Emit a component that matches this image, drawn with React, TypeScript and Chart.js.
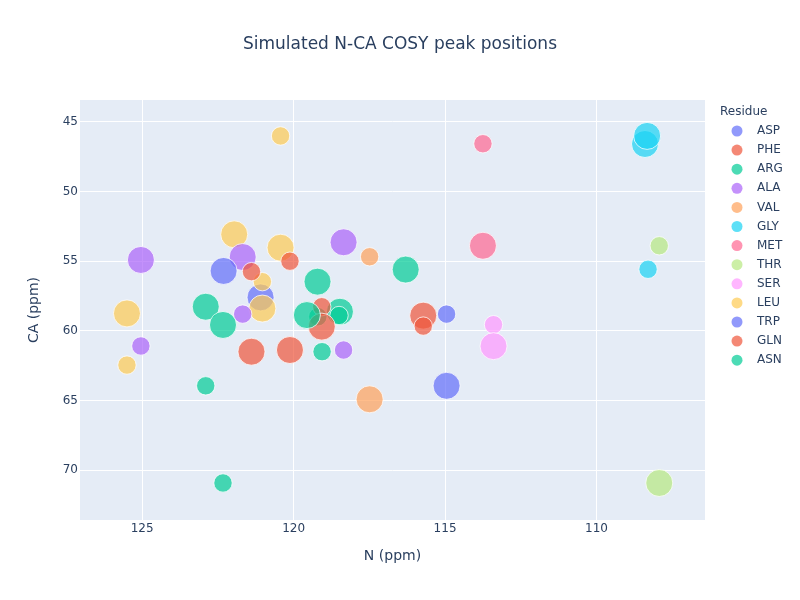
import React, { useEffect, useRef } from "react";
import { Chart, registerables } from "chart.js";

Chart.register(...registerables);

// Residue types, in legend order, with their marker colours
const RESIDUES = ["ASP", "PHE", "ARG", "ALA", "VAL", "GLY", "MET", "THR", "SER", "LEU", "TRP", "GLN", "ASN"];
const RESIDUE_COLORS = [
  "#636efa", "#EF553B", "#00cc96", "#ab63fa", "#FFA15A", "#19d3f3", "#FF6692",
  "#B6E880", "#FF97FF", "#FECB52", "#636efa", "#EF553B", "#00cc96",
];

// Simulated peaks: residue, N shift (ppm), CA shift (ppm), relative intensity
const PEAK_RESIDUE = [
  "ASP", "ASP",
  "PHE", "PHE", "PHE", "PHE",
  "ARG", "ARG", "ARG", "ARG", "ARG", "ARG",
  "ALA", "ALA", "ALA", "ALA", "ALA", "ALA",
  "VAL", "VAL",
  "GLY", "GLY", "GLY",
  "MET", "MET",
  "THR", "THR",
  "SER", "SER",
  "LEU", "LEU", "LEU", "LEU", "LEU", "LEU", "LEU",
  "TRP", "TRP",
  "GLN", "GLN", "GLN", "GLN",
  "ASN", "ASN", "ASN", "ASN", "ASN",
];
const PEAK_N = [
  122.31, 114.95,
  120.12, 121.39, 121.39, 120.12,
  119.21, 116.3, 122.9, 122.33, 122.9, 119.56,
  125.04, 121.68, 118.35, 121.68, 125.04, 118.35,
  117.49, 117.49,
  108.4, 108.33, 108.3,
  113.75, 113.75,
  107.93, 107.93,
  113.4, 113.4,
  120.43, 121.96, 120.43, 121.03, 121.03, 125.5, 125.5,
  121.09, 114.95,
  119.07, 119.07, 115.72, 115.72,
  118.47, 119.06, 122.33, 119.2, 118.5,
];
const PEAK_CA = [
  55.7, 63.95,
  55.0, 55.75, 61.5, 61.38,
  56.47, 55.6, 58.27, 59.58, 63.95, 58.87,
  54.91, 54.7, 53.64, 58.8, 61.09, 61.38,
  54.68, 64.92,
  46.58, 46.0, 55.58,
  46.56, 53.89,
  53.89, 70.93,
  59.56, 61.1,
  46.0, 53.07, 54.03, 56.47, 58.4, 58.75, 62.46,
  57.6, 58.8,
  58.27, 59.7, 58.91, 59.66,
  58.63, 61.5, 70.93, 58.99, 58.9,
];
const PEAK_INTENSITY = [
  1.0, 1.0,
  0.68, 0.68, 1.0, 1.0,
  1.0, 1.0, 1.0, 1.0, 0.68, 1.0,
  1.0, 1.0, 1.0, 0.68, 0.68, 0.68,
  0.68, 1.0,
  1.0, 1.0, 0.68,
  0.68, 1.0,
  0.68, 1.0,
  0.68, 1.0,
  0.68, 1.0, 1.0, 0.68, 1.0, 1.0, 0.68,
  1.0, 0.68,
  0.68, 1.0, 1.0, 0.68,
  1.0, 0.68, 0.68, 0.68, 0.68,
];

const N_TICKS = [125, 120, 115, 110];
const CA_TICKS = [45, 50, 55, 60, 65, 70];
const N_RANGE = [106.42, 127.05];
const CA_RANGE = [43.42, 73.59];

const TITLE = "Simulated N-CA COSY peak positions";
const X_TITLE = "N (ppm)";
const Y_TITLE = "CA (ppm)";
const LEGEND_TITLE = "Residue";

const FONT = '"DejaVu Sans", verdana, arial, sans-serif';
const TEXT_COLOR = "#2a3f5f";
const MAX_RADIUS = 13.5;

function withAlpha(hex: string, a: number) {
  const h = hex.replace("#", "");
  const r = parseInt(h.slice(0, 2), 16);
  const g = parseInt(h.slice(2, 4), 16);
  const b = parseInt(h.slice(4, 6), 16);
  return `rgba(${r},${g},${b},${a})`;
}

// Draws the plot background, the figure title, the axis titles and the residue legend
const decorations = {
  id: "decorations",
  beforeDraw(chart: any) {
    const { ctx, chartArea } = chart;
    ctx.save();
    ctx.fillStyle = "#E5ECF6";
    ctx.fillRect(chartArea.left, chartArea.top, chartArea.right - chartArea.left, chartArea.bottom - chartArea.top);
    ctx.restore();
  },
  afterDraw(chart: any) {
    const { ctx, chartArea } = chart;
    ctx.save();
    ctx.fillStyle = TEXT_COLOR;
    ctx.textBaseline = "middle";

    ctx.font = `17px ${FONT}`;
    ctx.textAlign = "center";
    ctx.fillText(TITLE, 400, 45);

    ctx.font = `14px ${FONT}`;
    ctx.fillText(X_TITLE, (chartArea.left + chartArea.right) / 2, 556);

    ctx.save();
    ctx.translate(34, (chartArea.top + chartArea.bottom) / 2);
    ctx.rotate(-Math.PI / 2);
    ctx.fillText(Y_TITLE, 0, 0);
    ctx.restore();

    ctx.textAlign = "left";
    ctx.font = `12px ${FONT}`;
    ctx.fillText(LEGEND_TITLE, 720, 112);
    RESIDUES.forEach((name, i) => {
      const y = 131 + i * 19.1;
      ctx.beginPath();
      ctx.arc(737, y, 5.5, 0, Math.PI * 2);
      ctx.fillStyle = withAlpha(RESIDUE_COLORS[i], 0.7);
      ctx.fill();
      ctx.fillStyle = TEXT_COLOR;
      ctx.fillText(name, 757, y);
    });
    ctx.restore();
  },
};

export default function App() {
  const canvasRef = useRef<HTMLCanvasElement | null>(null);

  useEffect(() => {
    if (!canvasRef.current) return;
    const datasets = RESIDUES.map((name, i) => {
      const data: { x: number; y: number; r: number }[] = [];
      PEAK_RESIDUE.forEach((res, k) => {
        if (res === name) data.push({ x: PEAK_N[k], y: PEAK_CA[k], r: PEAK_INTENSITY[k] * MAX_RADIUS });
      });
      return {
        label: name,
        data,
        backgroundColor: withAlpha(RESIDUE_COLORS[i], 0.7),
        borderColor: "rgba(255,255,255,0.75)",
        borderWidth: 1,
        hoverRadius: 0,
      };
    });

    const chart = new Chart(canvasRef.current, {
      type: "bubble",
      data: { datasets },
      plugins: [decorations],
      options: {
        responsive: false,
        animation: false,
        clip: false as any,
        layout: { padding: { left: 0, right: 95, top: 100, bottom: 0 } },
        plugins: { legend: { display: false }, title: { display: false }, tooltip: { enabled: false } },
        scales: {
          x: {
            type: "linear",
            reverse: true,
            min: N_RANGE[0],
            max: N_RANGE[1],
            border: { display: false },
            grid: { color: "#ffffff", lineWidth: 1, drawTicks: false },
            ticks: { padding: 2, color: TEXT_COLOR, font: { family: FONT, size: 12 } },
            afterBuildTicks: (scale: any) => {
              scale.ticks = N_TICKS.map((v) => ({ value: v }));
            },
            afterFit: (scale: any) => {
              scale.height = 80;
            },
          },
          y: {
            type: "linear",
            reverse: true,
            min: CA_RANGE[0],
            max: CA_RANGE[1],
            border: { display: false },
            grid: { color: "#ffffff", lineWidth: 1, drawTicks: false },
            ticks: { padding: 2, color: TEXT_COLOR, font: { family: FONT, size: 12 } },
            afterBuildTicks: (scale: any) => {
              scale.ticks = CA_TICKS.map((v) => ({ value: v }));
            },
            afterFit: (scale: any) => {
              scale.width = 80;
            },
          },
        },
      },
    });
    return () => chart.destroy();
  }, []);

  return (
    <div style={{ position: "absolute", left: 0, top: 0, width: 800, height: 600, background: "#ffffff" }}>
      <canvas ref={canvasRef} width={800} height={600} style={{ display: "block" }} />
    </div>
  );
}
